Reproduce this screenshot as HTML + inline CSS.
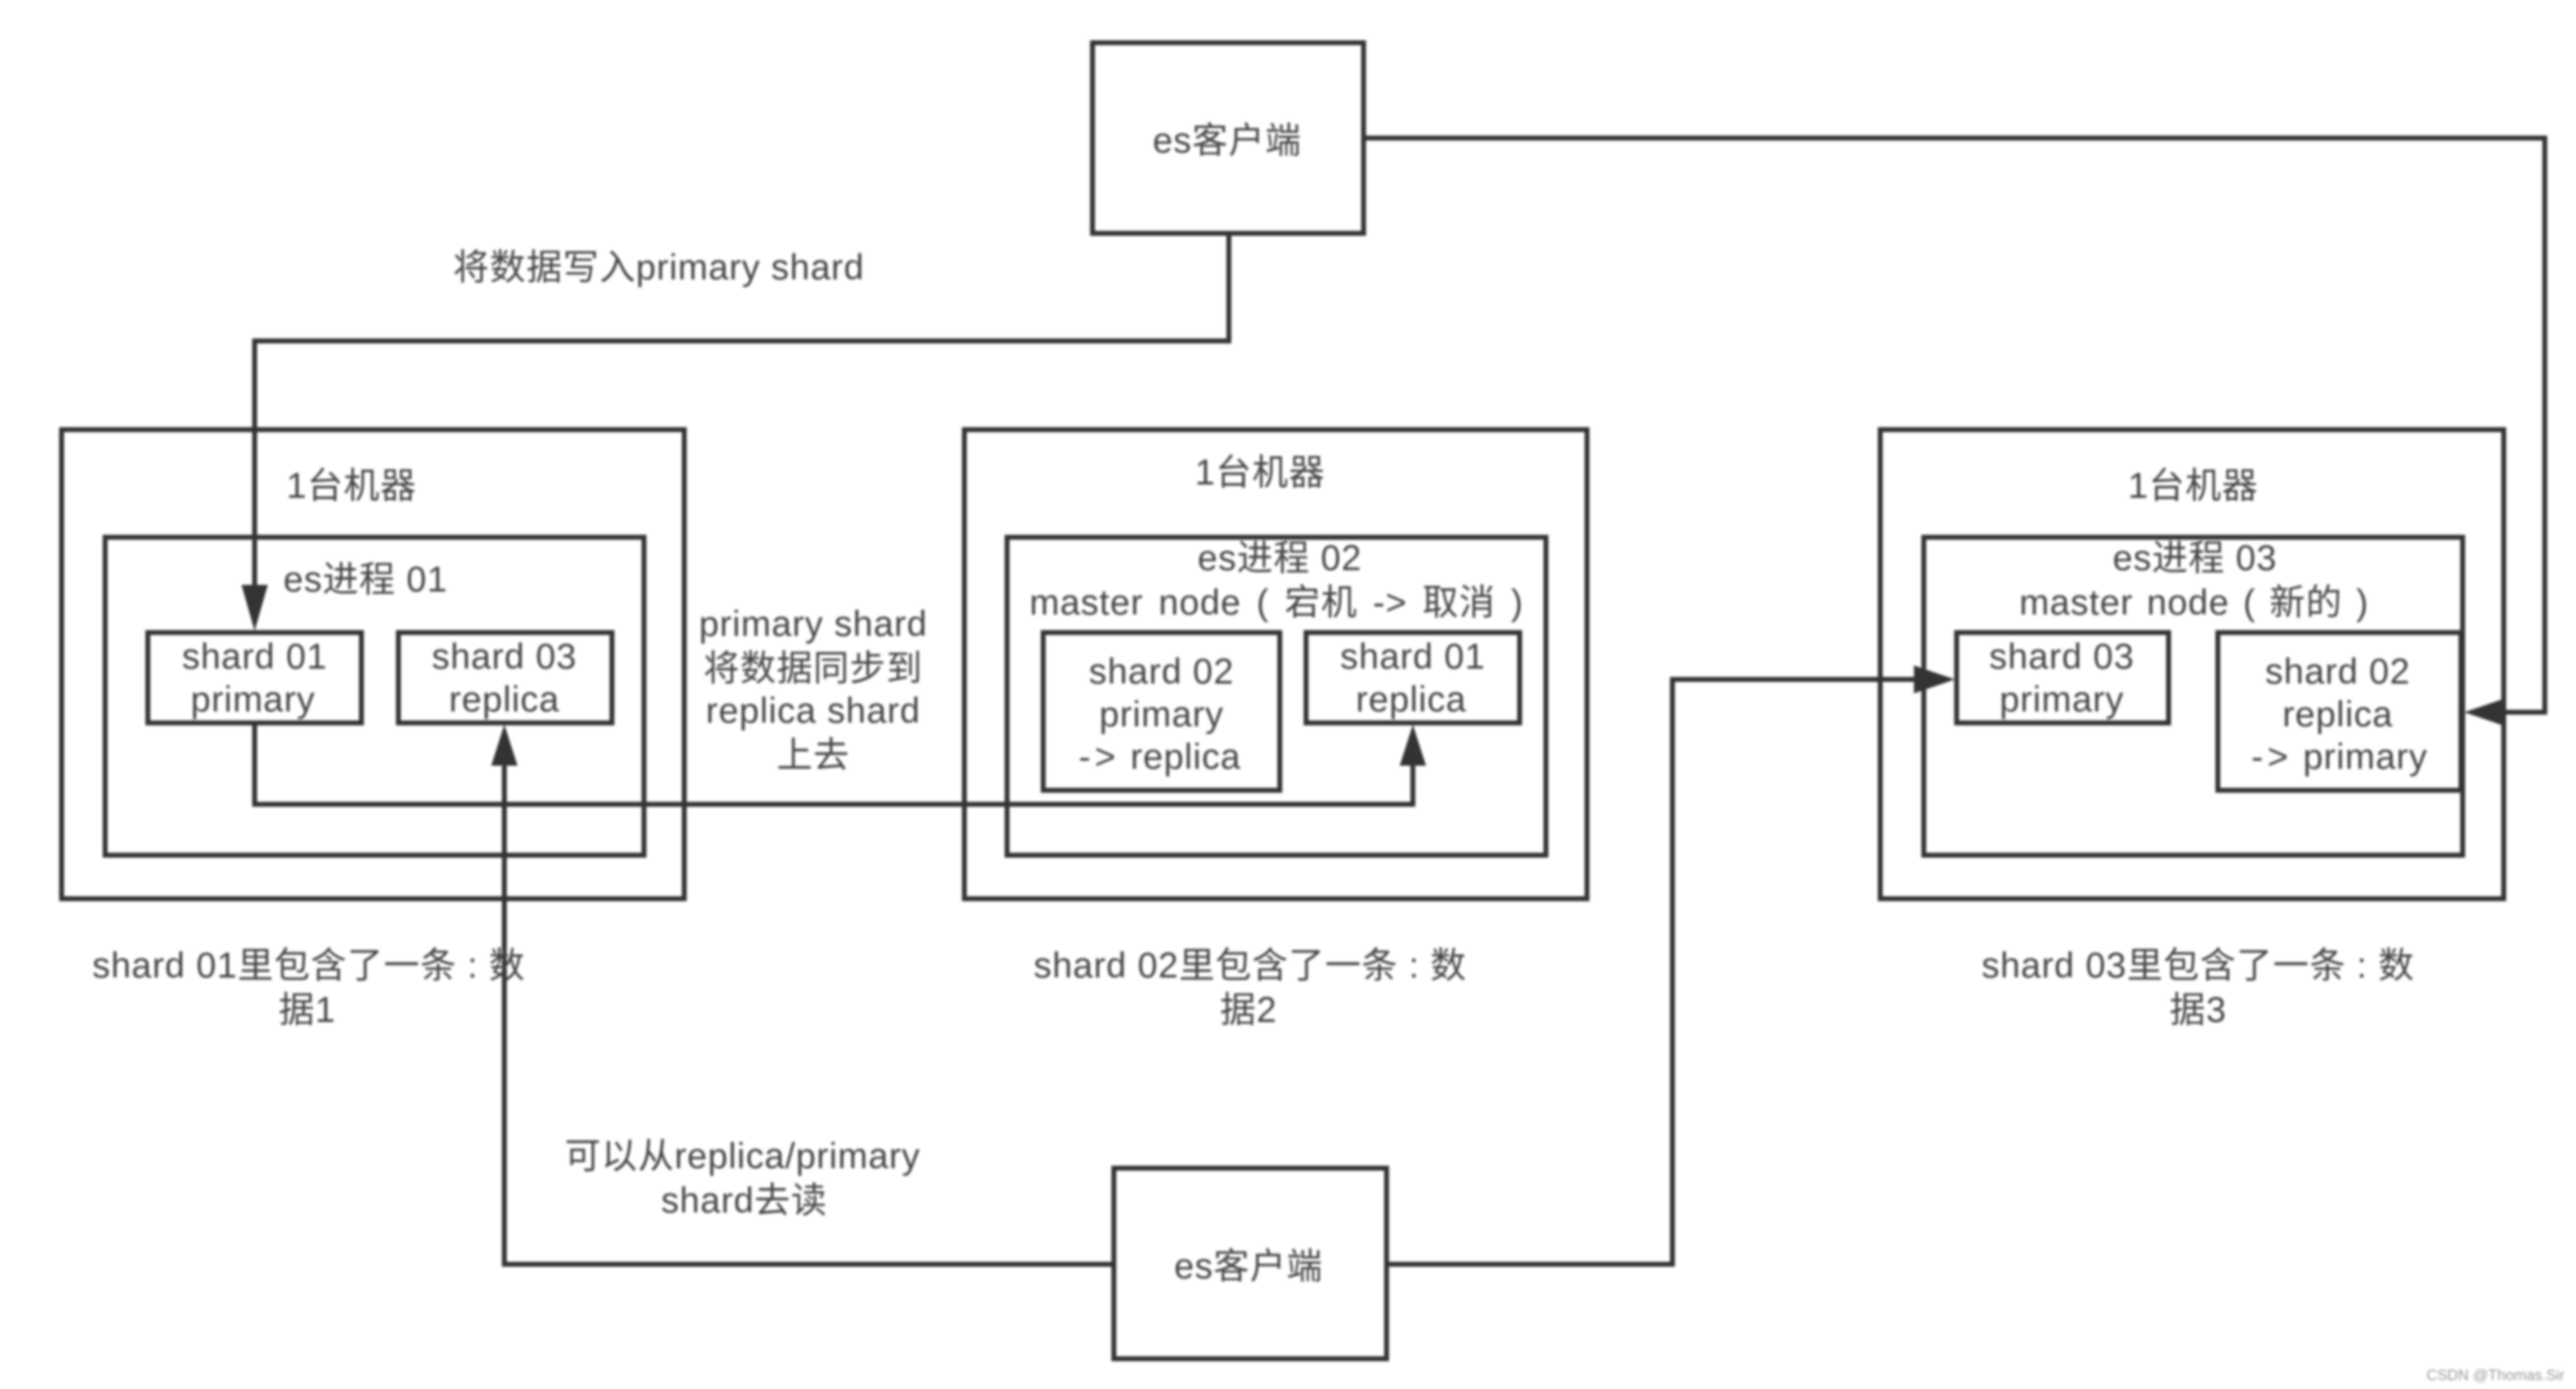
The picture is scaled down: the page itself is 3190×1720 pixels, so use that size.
<!DOCTYPE html>
<html>
<head>
<meta charset="utf-8">
<style>
html,body{margin:0;padding:0;background:#fff;width:3190px;height:1720px;overflow:hidden}
svg{display:block;filter:blur(1.5px)}
text{font-family:"Liberation Sans","Noto Sans CJK SC",sans-serif;font-size:21.8px;letter-spacing:.45px;fill:#444;text-anchor:middle}
.b{fill:none;stroke:#333;stroke-width:3}
.a{fill:#333;stroke:none}
.s{letter-spacing:2.5px}
</style>
</head>
<body>
<svg width="3190" height="1720" viewBox="0 0 1568 845.4" xmlns="http://www.w3.org/2000/svg">
<rect x="0" y="0" width="1568" height="846" fill="#fff"/>
<rect class="b" x="665" y="26" width="165" height="116"/>
<rect class="b" x="678" y="711" width="166" height="116"/>

<rect class="b" x="37.5" y="261.5" width="379" height="285.5"/>
<rect class="b" x="587" y="261.5" width="379" height="285.5"/>
<rect class="b" x="1144.5" y="261.5" width="379.5" height="285.5"/>

<rect class="b" x="64" y="327" width="328" height="193.5"/>
<rect class="b" x="613" y="327" width="328" height="193.5"/>
<rect class="b" x="1171" y="327" width="328" height="193.5"/>

<rect class="b" x="90" y="385" width="130" height="55"/>
<rect class="b" x="242.5" y="385" width="130" height="55"/>
<rect class="b" x="635" y="385" width="144" height="96"/>
<rect class="b" x="795" y="385" width="130" height="55"/>
<rect class="b" x="1191" y="385" width="129" height="55"/>
<rect class="b" x="1350" y="385" width="148" height="96"/>

<path class="b" d="M748 142V207.5H155V358"/>
<polygon class="a" points="147,356 163,356 155,384"/>
<path class="b" d="M155 440V489.5H860V466"/>
<polygon class="a" points="852,466 868,466 860,441"/>
<path class="b" d="M678 769.5H307V466"/>
<polygon class="a" points="299,466 315,466 307,441"/>
<path class="b" d="M844 769.5H1018V413.5H1166"/>
<polygon class="a" points="1165,405 1165,422 1190,413.5"/>
<path class="b" d="M830 84H1549V433.5H1524"/>
<polygon class="a" points="1525,425 1525,442 1500,433.5"/>

<text x="747" y="93">es客户端</text>
<text x="760" y="778">es客户端</text>
<text x="401" y="170">将数据写入primary shard</text>
<text x="214" y="303">1台机器</text>
<text x="767" y="295">1台机器</text>
<text x="1335" y="303">1台机器</text>
<text x="222.5" y="360">es进程 01</text>
<text x="779" y="347">es进程 02</text>
<text x="777" y="374" style="word-spacing:2.8px">master node ( 宕机 -&gt; 取消 )</text>
<text x="1336" y="347">es进程 03</text>
<text x="1335.5" y="374" style="word-spacing:1.8px">master node ( 新的 )</text>
<text x="155" y="407">shard 01</text>
<text x="154" y="433">primary</text>
<text x="307" y="407">shard 03</text>
<text x="307" y="433">replica</text>
<text x="707" y="416">shard 02</text>
<text x="707" y="442">primary</text>
<text x="706" y="468"><tspan class="s">-&gt;</tspan> replica</text>
<text x="860" y="407">shard 01</text>
<text x="859" y="433">replica</text>
<text x="1255" y="407">shard 03</text>
<text x="1255" y="433">primary</text>
<text x="1423" y="416">shard 02</text>
<text x="1423" y="442">replica</text>
<text x="1424" y="468"><tspan class="s">-&gt;</tspan> primary</text>
<text x="495" y="387">primary shard</text>
<text x="495" y="414">将数据同步到</text>
<text x="495" y="440">replica shard</text>
<text x="495" y="467">上去</text>
<text x="188" y="595">shard 01里包含了一条 : 数</text>
<text x="187" y="622">据1</text>
<text x="761" y="595">shard 02里包含了一条 : 数</text>
<text x="760" y="622">据2</text>
<text x="1338" y="595">shard 03里包含了一条 : 数</text>
<text x="1338" y="622">据3</text>
<text x="452" y="711">可以从replica/primary</text>
<text x="453" y="738">shard去读</text>
<text x="1519" y="840" style="font-size:9.1px;letter-spacing:0;fill:#999">CSDN @Thomas.Sir</text>
</svg>
</body>
</html>
